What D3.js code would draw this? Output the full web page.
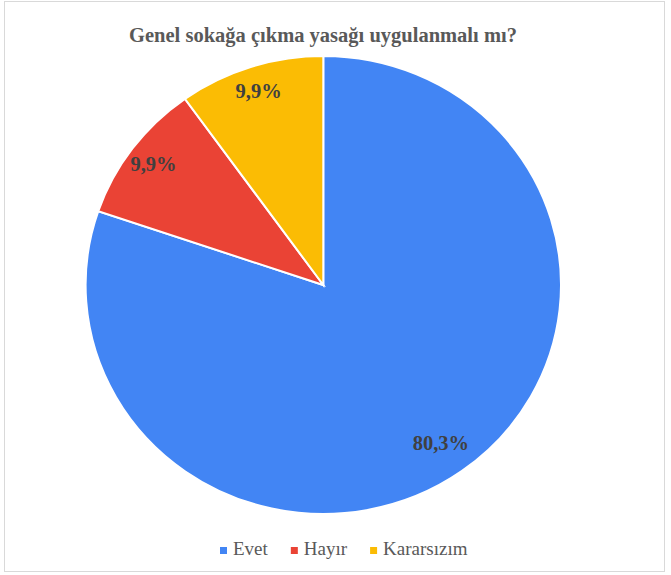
<!DOCTYPE html>
<html><head><meta charset="utf-8">
<script src="https://cdn.jsdelivr.net/npm/d3@7"></script>
<style>body{margin:0;background:#fff}svg{display:block}</style>
</head><body>
<script>
const title = "Genel sokağa çıkma yasağı uygulanmalı mı?";
const categories = ["Evet", "Hayır", "Kararsızım"];
const values = [80.3, 9.9, 9.9];
const labels = ["80,3%", "9,9%", "9,9%"];
const colors = ["#4285F4", "#EA4335", "#FBBC04"];

const W = 671, H = 575;
const svg = d3.select("body").append("svg").attr("width", W).attr("height", H);
svg.append("rect").attr("x", 4.5).attr("y", 1.5).attr("width", 660).attr("height", 570)
  .attr("fill", "#fff").attr("stroke", "#d9d9d9").attr("stroke-width", 1);

svg.append("text").attr("x", 323).attr("y", 42).attr("text-anchor", "middle")
  .attr("font-family", "Liberation Serif, Times New Roman, serif").attr("font-weight", "bold")
  .attr("font-size", 20.5).attr("fill", "#595959").text(title);

const cx = 323.3, cy = 285, r = 229, sx = 237.7 / 229;
const pie = d3.pie().sort(null).value(d => d)(values);
const arc = d3.arc().innerRadius(0).outerRadius(r);
const labelPos = d => {
  const k = (d.endAngle - d.startAngle) > Math.PI ? 0.85 : 0.89;
  const a = d3.arc().innerRadius(r * k).outerRadius(r * k).centroid(d);
  return [a[0] * sx, a[1]];
};

const g = svg.append("g").attr("transform", `translate(${cx},${cy})`);
g.append("g").attr("transform", `scale(${sx},1)`).selectAll("path").data(pie).join("path")
  .attr("d", arc).attr("fill", (d, i) => colors[i])
  .attr("stroke", "#fff").attr("stroke-width", 2).attr("vector-effect", "non-scaling-stroke");

g.selectAll("text.lbl").data(pie).join("text").attr("class", "lbl")
  .attr("x", d => labelPos(d)[0]).attr("y", d => labelPos(d)[1])
  .attr("dy", "0.35em").attr("text-anchor", "middle")
  .attr("font-family", "Liberation Serif, Times New Roman, serif").attr("font-weight", "bold")
  .attr("font-size", 20.5).attr("fill", "#404040").text((d, i) => labels[i]);

// legend
const legend = svg.append("g").attr("font-family", "Liberation Serif, Times New Roman, serif")
  .attr("font-size", 19).attr("fill", "#595959");
const items = [];
let x = 0;
categories.forEach((c, i) => {
  const t = legend.append("text").attr("y", 555).text(c);
  const w = t.node().getComputedTextLength();
  items.push({t, i, x, w});
  x += 13 + w + 23;
});
const x0 = 220;
items.forEach(it => {
  legend.append("rect").attr("x", x0 + it.x).attr("y", 547).attr("width", 7).attr("height", 7).attr("fill", colors[it.i]);
  it.t.attr("x", x0 + it.x + 13);
});
</script>
</body></html>
